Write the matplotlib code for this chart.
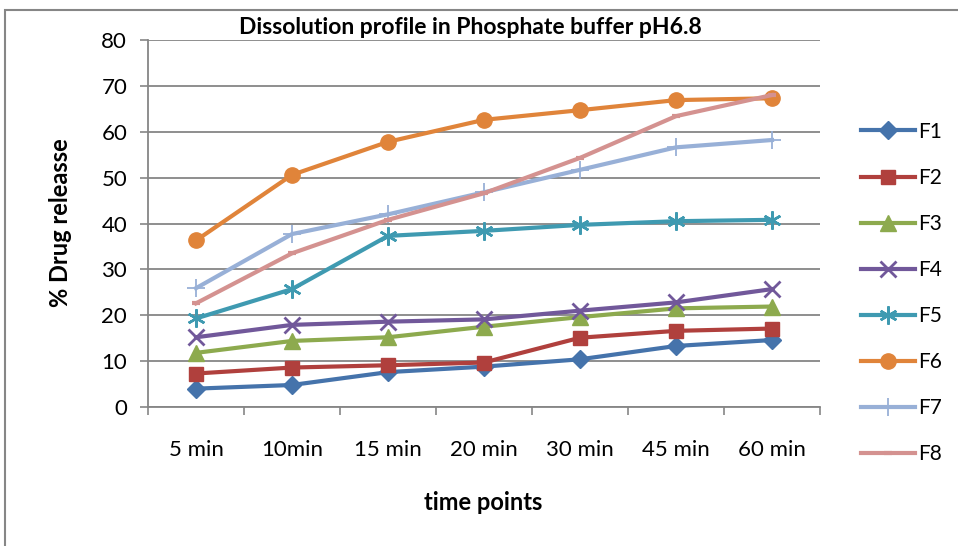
import matplotlib
matplotlib.use("Agg")
import matplotlib.pyplot as plt
from matplotlib.patches import Rectangle
from matplotlib.ticker import FixedLocator

plt.rcParams['font.family'] = ['Lato', 'DejaVu Sans']

# time points and % drug release for each formulation
time_labels = ["5 min", "10min", "15 min", "20 min", "30 min", "45 min", "60 min"]
f1 = [4.0, 4.8, 7.6, 8.8, 10.4, 13.3, 14.6]
f2 = [7.3, 8.6, 9.1, 9.7, 15.1, 16.6, 17.1]
f3 = [11.8, 14.4, 15.2, 17.5, 19.6, 21.5, 21.9]
f4 = [15.2, 17.9, 18.6, 19.1, 21.0, 22.8, 25.7]
f5 = [19.3, 25.7, 37.3, 38.4, 39.7, 40.5, 40.8]
f6 = [36.3, 50.6, 57.8, 62.6, 64.7, 66.9, 67.3]
f7 = [25.9, 37.7, 42.0, 46.8, 51.7, 56.6, 58.2]
f8 = [22.6, 33.5, 40.8, 46.6, 54.3, 63.4, 68.0]

series = [
    ("F1", f1, "#4573AB", dict(marker="D", markersize=9)),
    ("F2", f2, "#B0403D", dict(marker="s", markersize=10)),
    ("F3", f3, "#8DAA4E", dict(marker="^", markersize=11)),
    ("F4", f4, "#71589A", dict(marker="x", markersize=11, markeredgewidth=2)),
    ("F5", f5, "#3F9AB1", dict(marker=(6, 2, 0), markersize=13, markeredgewidth=1.8)),
    ("F6", f6, "#E0843A", dict(marker="o", markersize=11)),
    ("F7", f7, "#98B0D7", dict(marker="+", markersize=13, markeredgewidth=1.3)),
    ("F8", f8, "#D49290", dict(marker="_", markersize=6, markeredgewidth=3)),
]

fig = plt.figure(figsize=(9.58, 5.46), dpi=100)
ax = fig.add_axes([148 / 958, 1 - 407 / 546, 672 / 958, 367 / 546])

x = list(range(len(time_labels)))
for name, vals, col, mk in series:
    ax.plot(x, vals, color=col, linewidth=3, label=name, **mk)

ax.set_xlim(-0.5, len(time_labels) - 0.5)
ax.set_ylim(0, 80)
ax.set_yticks(range(0, 81, 10))
ax.yaxis.grid(True, color="#868686", linewidth=1.3)
ax.set_axisbelow(True)

ax.set_xticks(x)
ax.set_xticklabels(time_labels, fontsize=16)
ax.tick_params(axis="x", which="major", length=0, pad=24)
ax.xaxis.set_minor_locator(FixedLocator([i - 0.5 for i in range(len(time_labels) + 1)]))
ax.tick_params(axis="x", which="minor", length=6, color="#868686", width=1.2, direction="out")
ax.tick_params(axis="y", labelsize=16, length=6, color="#868686", width=1.2, pad=9)

for s in ["top", "right"]:
    ax.spines[s].set_visible(False)
for s in ["left", "bottom"]:
    ax.spines[s].set_color("#868686")
    ax.spines[s].set_linewidth(1.3)

fig.text(470 / 958, 1 - 28 / 546, "Dissolution profile in Phosphate buffer pH6.8",
         ha="center", va="center", fontsize=16.5, fontweight="bold")
fig.text(60 / 958, 1 - 223 / 546, "% Drug releasse", rotation=90,
         ha="center", va="center", fontsize=17, fontweight="bold")
fig.text(483 / 958, 1 - 502 / 546, "time points",
         ha="center", va="center", fontsize=17, fontweight="bold")

fig.legend(loc="upper left", bbox_to_anchor=(842 / 958, 1 - 103 / 546), frameon=False,
           fontsize=15, handlelength=2.6, labelspacing=1.25, handletextpad=0.15)

# outer chart border (only left and top edges visible)
fig.patches.append(Rectangle((5 / 958, -0.1), 2, 1 - 10 / 546 + 0.1, transform=fig.transFigure,
                             fill=False, edgecolor="#868686", linewidth=1.5))

fig.savefig("out.png", dpi=100)
